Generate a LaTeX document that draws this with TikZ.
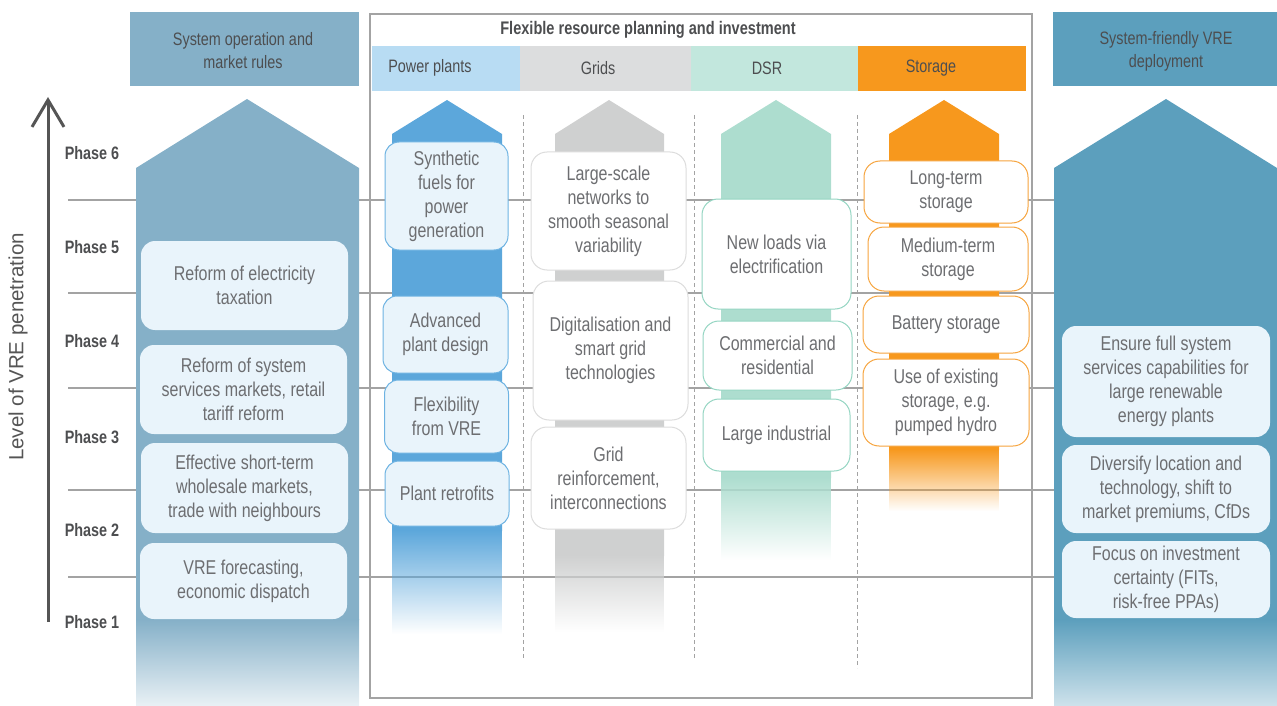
\documentclass[tikz,border=0pt]{standalone}
\usepackage{fontspec}
\setmainfont{Liberation Sans}[FakeStretch=0.8]
\newfontfamily\axisfont{Liberation Sans}
\usepackage{tikz}
\usetikzlibrary{arrows.meta}
\usetikzlibrary{fadings}
\definecolor{leftblue}{HTML}{85B0C8}
\definecolor{rightblue}{HTML}{5C9FBD}
\definecolor{boxfill}{HTML}{E9F4FB}
\definecolor{ppblue}{HTML}{5CA7DB}
\definecolor{ppbar}{HTML}{B8DCF3}
\definecolor{ppline}{HTML}{6EB3E2}
\definecolor{gridbar}{HTML}{DCDDDE}
\definecolor{gridgray}{HTML}{CFD0D0}
\definecolor{gridline}{HTML}{DCDCDC}
\definecolor{dsrbar}{HTML}{C2E7DD}
\definecolor{dsrgreen}{HTML}{ADDDCF}
\definecolor{dsrline}{HTML}{94D5C2}
\definecolor{stororange}{HTML}{F7981D}
\definecolor{storline}{HTML}{F6A43E}
\definecolor{txtgray}{HTML}{6D6E71}
\definecolor{headgray}{HTML}{4D4E50}
\definecolor{linegray}{HTML}{A3A3A3}
\definecolor{axisgray}{HTML}{555555}
\newcommand{\boxfont}{\fontsize{20}{24}\selectfont}
\newcommand{\headfont}{\fontsize{18}{23}\selectfont}
\newcommand{\phasefont}{\fontsize{18}{20}\selectfont\bfseries}
\newcommand{\titlefont}{\fontsize{18.2}{21}\selectfont\bfseries}
\tikzfading[name=fadedown, top color=transparent!0, bottom color=transparent!100]

\begin{document}
\begin{tikzpicture}[x=1pt, y=-1pt, every node/.style={inner sep=0pt},
	softbox/.style={fill=boxfill, rounded corners=14, align=center, text=txtgray, font=\boxfont},
	ppbox/.style={softbox, draw=ppline, line width=1},
	gridbox/.style={fill=white, draw=gridline, line width=1, rounded corners=16, align=center, text=txtgray, font=\boxfont},
	dsrbox/.style={gridbox, draw=dsrline},
	storbox/.style={gridbox, draw=storline},
	phaselbl/.style={text=headgray, font=\phasefont},
	headlbl/.style={text=headgray, font=\headfont, align=center}]
	\useasboundingbox (0,0) rectangle (1277,706);
	% Phase lines:
	\draw[linegray, line width=1.2]
		(68,200) -- (1054,200)
		(68,293) -- (1054,293)
		(68,388) -- (1054,388)
		(68,490) -- (1054,490)
		(68,577) -- (1054,577);
	% The frame:
	\draw[linegray, line width=1.2] (370,14) rectangle (1032,698);
	% Axis:
	\coordinate (axisfoot) at (48,622);
	\coordinate (axishead) at (48,97);
	\draw[axisgray, line width=3, -{Straight Barb[length=27,width=32]}] (axisfoot) -- (axishead);
	\node[rotate=90, text=axisgray, font=\axisfont\fontsize{20.5}{24}\selectfont] (axislabel) at (18,347) {Level of VRE penetration};
	\node[phaselbl] (phasesix) at (92,153) {Phase 6};
	\node[phaselbl] (phasefive) at (92,247) {Phase 5};
	\node[phaselbl] (phasefour) at (92,341) {Phase 4};
	\node[phaselbl] (phasethree) at (92,437) {Phase 3};
	\node[phaselbl] (phasetwo) at (92,530) {Phase 2};
	\node[phaselbl] (phaseone) at (92,622) {Phase 1};
	% System operation and market rules:
	\fill[leftblue] (130,12) rectangle (359,86);
	\node[headlbl] (opshead) at (243,51) {System operation and\\market rules};
	\fill[leftblue] (247,99) -- (359,168) -- (359,620) -- (136,620) -- (136,168) -- cycle;
	\shade[top color=leftblue, bottom color=leftblue!18] (136,619.5) rectangle (359,706);
	\node[softbox, minimum width=207, minimum height=89] (taxation) at (244.5,285.5) {Reform of electricity\\taxation};
	\node[softbox, minimum width=207, minimum height=89] (services) at (243.5,389.5) {Reform of system\\services markets, retail\\tariff reform};
	\node[softbox, minimum width=207, minimum height=90] (wholesale) at (244.5,488) {Effective short-term\\wholesale markets,\\trade with neighbours};
	\node[softbox, minimum width=207, minimum height=76] (forecast) at (243.5,581) {VRE forecasting,\\economic dispatch};
	% System-friendly VRE deployment:
	\fill[rightblue] (1053,12) rectangle (1277,86);
	\node[headlbl] (vrehead) at (1166,51) {System-friendly VRE\\deployment};
	\fill[rightblue] (1166,99) -- (1277,168) -- (1277,620) -- (1054,620) -- (1054,168) -- cycle;
	\shade[top color=rightblue, bottom color=rightblue!30] (1054,619.5) rectangle (1277,706);
	\node[softbox, minimum width=208, minimum height=111] (capab) at (1166,381.5) {Ensure full system\\services capabilities for\\large renewable\\energy plants};
	\node[softbox, minimum width=208, minimum height=88] (diversify) at (1166,489) {Diversify location and\\technology, shift to\\market premiums, CfDs};
	\node[softbox, minimum width=208, minimum height=77] (certainty) at (1166,579.5) {Focus on investment\\certainty (FITs,\\risk-free PPAs)};
	% Flexible resource planning and investment:
	\node[text=headgray, font=\titlefont] (flextitle) at (648,30) {Flexible resource planning and investment};
	\fill[ppbar] (372,46) rectangle (520,91);
	\fill[gridbar] (520,46) rectangle (691,91);
	\fill[dsrbar] (691,46) rectangle (858,91);
	\fill[stororange] (858,46) rectangle (1026,91);
	\node[headlbl] (pphead) at (430,68) {Power plants};
	\node[headlbl] (gridhead) at (598,68) {Grids};
	\node[headlbl] (dsrhead) at (767,68) {DSR};
	\node[headlbl] (storhead) at (931,68) {Storage};
	\draw[linegray, dash pattern=on 4 off 3]
		(523,115) -- (523,658)
		(694,115) -- (694,658)
		(857,115) -- (857,668);
	% Columns:
	\fill[ppblue] (447,100) -- (502,134) -- (502,531) -- (392,531) -- (392,134) -- cycle;
	\fill[ppblue, path fading=fadedown] (392,530) rectangle (502,634);
	\fill[gridgray] (609,100) -- (664,134) -- (664,556) -- (555,556) -- (555,134) -- cycle;
	\fill[gridgray, path fading=fadedown] (555,555) rectangle (664,632);
	\fill[dsrgreen] (776,100) -- (831,134) -- (831,478) -- (721,478) -- (721,134) -- cycle;
	\fill[dsrgreen, path fading=fadedown] (721,477) rectangle (831,560);
	\fill[stororange] (944,100) -- (999,134) -- (999,450) -- (889,450) -- (889,134) -- cycle;
	\fill[stororange, path fading=fadedown] (889,449) rectangle (999,511);
	% Power plants:
	\node[ppbox, minimum width=123, minimum height=108] (synfuel) at (446.5,196) {Synthetic\\fuels for\\power\\generation};
	\node[ppbox, minimum width=125, minimum height=77] (advanced) at (445.5,334.5) {Advanced\\plant design};
	\node[ppbox, minimum width=124, minimum height=73] (flexvre) at (446.5,416.5) {Flexibility\\from VRE};
	\node[ppbox, minimum width=124, minimum height=65] (retrofit) at (447,493.5) {Plant retrofits};
	% Grids:
	\node[gridbox, minimum width=155, minimum height=118] (largescale) at (608.5,211) {Large-scale\\networks to\\smooth seasonal\\variability};
	\node[gridbox, minimum width=155, minimum height=139] (digital) at (610.5,350.5) {Digitalisation and\\smart grid\\technologies};
	\node[gridbox, minimum width=155, minimum height=102] (reinforce) at (608.5,478) {Grid\\reinforcement,\\interconnections};
	% DSR:
	\node[dsrbox, minimum width=149, minimum height=110] (newloads) at (776.5,254) {New loads via\\electrification};
	\node[dsrbox, minimum width=149, minimum height=69] (commercial) at (777.5,355.5) {Commercial and\\residential};
	\node[dsrbox, minimum width=147, minimum height=72] (industrial) at (776.5,435) {Large industrial};
	% Storage:
	\node[storbox, minimum width=164, minimum height=62] (longterm) at (946,192) {Long-term\\storage};
	\node[storbox, minimum width=160, minimum height=64] (mediumterm) at (948,259) {Medium-term\\storage};
	\node[storbox, minimum width=166, minimum height=57] (battery) at (946,324.5) {Battery storage};
	\node[storbox, minimum width=166, minimum height=87] (pumped) at (946,402.5) {Use of existing\\storage, e.g.\\pumped hydro};
\end{tikzpicture}
\end{document}
